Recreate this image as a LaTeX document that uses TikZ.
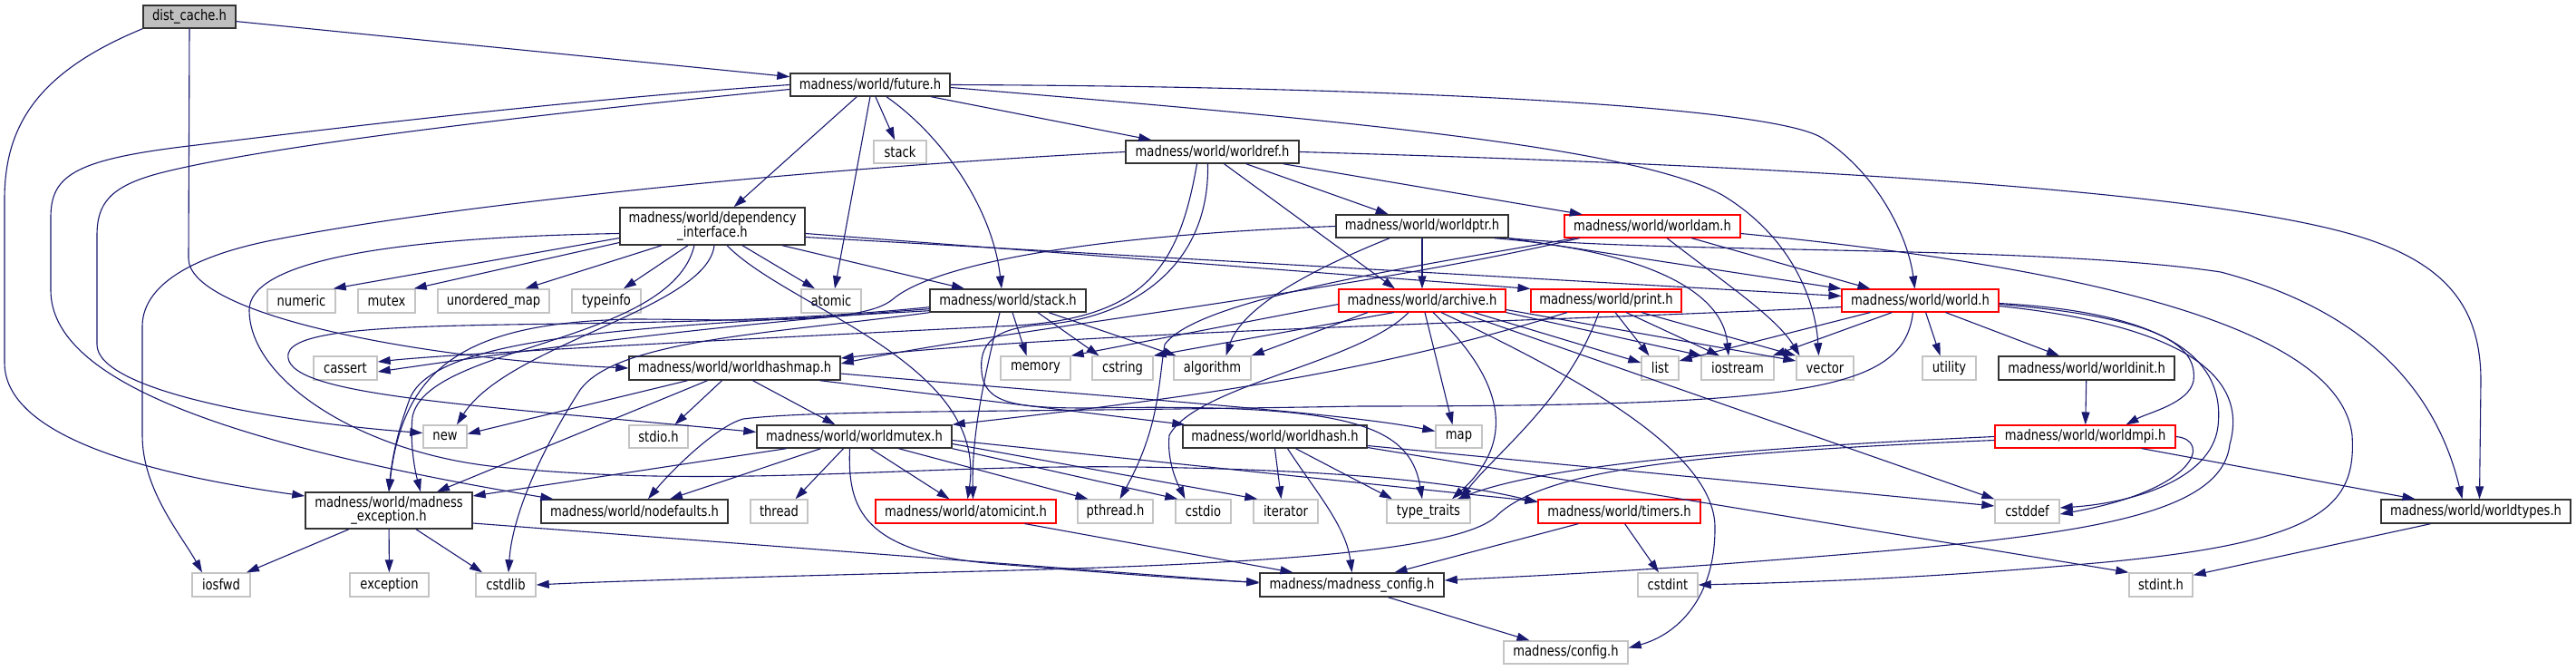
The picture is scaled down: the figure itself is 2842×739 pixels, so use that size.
\documentclass[tikz,border=0pt]{standalone}
\usepackage{fontspec}
\setmainfont{DejaVu Sans}[FakeStretch=0.82]
\usetikzlibrary{arrows.meta}
\definecolor{edgeblue}{HTML}{191970}
\definecolor{grayfill}{HTML}{BFBFBF}
\definecolor{boxgray}{HTML}{C4C4C4}
\definecolor{boxdark}{HTML}{333333}
\newcommand\mknode[7]{\node[#6, minimum width={#4-#2}, minimum height={#5-#3}] (#1) at ({(#2+#4)/2},{(#3+#5)/2}) {#7};}
\begin{document}
\begin{tikzpicture}[x=1pt,y=-1pt,
  font=\fontsize{16}{14.5}\selectfont,
  bx/.style={inner sep=0pt, line width=1.4pt, fill=white, align=center, text=black},
  nb/.style={bx, draw=boxdark},
  nr/.style={bx, draw=red, line width=1.1pt},
  ng/.style={bx, draw=boxgray},
  nd/.style={bx, draw=boxdark, fill=grayfill},
  edg/.style={draw=edgeblue, line width=1.1pt, -{Triangle[length=14pt,width=9pt]}},
]
\fill[white] (0,0) rectangle (2842,739);
\useasboundingbox (0,0) rectangle (2842,739);

% ---------- nodes ----------
\mknode{dist}{158}{6}{260}{31}{nd}{dist\_cache.h}
\mknode{future}{872}{81}{1048}{106}{nb}{madness/world/future.h}
\mknode{stack}{964}{155}{1022}{180}{ng}{stack}
\mknode{worldref}{1242}{155}{1433}{180}{nb}{madness/world/worldref.h}
\mknode{dep}{684}{229}{888}{270}{nb}{madness/world/dependency\\\_interface.h}
\mknode{worldptr}{1474}{237}{1664}{262}{nb}{madness/world/worldptr.h}
\mknode{worldam}{1726}{237}{1920}{262}{nr}{madness/world/worldam.h}
\mknode{numeric}{295}{319}{370}{345}{ng}{numeric}
\mknode{mutex}{395}{319}{458}{345}{ng}{mutex}
\mknode{umap}{483}{319}{606}{345}{ng}{unordered\_map}
\mknode{typeinfo}{631}{319}{707}{345}{ng}{typeinfo}
\mknode{atomic}{884}{319}{950}{345}{ng}{atomic}
\mknode{stackh}{1026}{319}{1198}{344}{nb}{madness/world/stack.h}
\mknode{archive}{1477}{319}{1661}{344}{nr}{madness/world/archive.h}
\mknode{print}{1689}{319}{1855}{344}{nr}{madness/world/print.h}
\mknode{world}{2032}{319}{2205}{344}{nr}{madness/world/world.h}
\mknode{cassert}{346}{393}{416}{419}{ng}{cassert}
\mknode{worldhashmap}{694}{393}{927}{419}{nb}{madness/world/worldhashmap.h}
\mknode{memory}{1104}{393}{1181}{419}{ng}{memory}
\mknode{cstring}{1205}{393}{1272}{419}{ng}{cstring}
\mknode{algorithm}{1295}{393}{1380}{419}{ng}{algorithm}
\mknode{list}{1811}{393}{1852}{419}{ng}{list}
\mknode{iostream}{1877}{393}{1957}{419}{ng}{iostream}
\mknode{vector}{1982}{393}{2045}{419}{ng}{vector}
\mknode{utility}{2121}{393}{2180}{419}{ng}{utility}
\mknode{worldinit}{2205}{393}{2399}{419}{nb}{madness/world/worldinit.h}
\mknode{new}{467}{469}{515}{494}{ng}{new}
\mknode{stdio}{694}{469}{759}{494}{ng}{stdio.h}
\mknode{worldmutex}{835}{469}{1050}{494}{nb}{madness/world/worldmutex.h}
\mknode{worldhash}{1305}{469}{1508}{494}{nb}{madness/world/worldhash.h}
\mknode{map}{1584}{469}{1635}{494}{ng}{map}
\mknode{worldmpi}{2201}{469}{2400}{494}{nr}{madness/world/worldmpi.h}
\mknode{mexc}{337}{543}{521}{583}{nb}{madness/world/madness\\\_exception.h}
\mknode{nodefaults}{597}{551}{803}{577}{nb}{madness/world/nodefaults.h}
\mknode{thread}{828}{551}{891}{577}{ng}{thread}
\mknode{atomicint}{966}{551}{1165}{577}{nr}{madness/world/atomicint.h}
\mknode{pthread}{1189}{551}{1272}{577}{ng}{pthread.h}
\mknode{cstdio}{1297}{551}{1358}{577}{ng}{cstdio}
\mknode{iterator}{1383}{551}{1454}{577}{ng}{iterator}
\mknode{typetraits}{1530}{551}{1622}{577}{ng}{type\_traits}
\mknode{timers}{1697}{551}{1876}{577}{nr}{madness/world/timers.h}
\mknode{cstddef}{2201}{551}{2272}{577}{ng}{cstddef}
\mknode{worldtypes}{2627}{551}{2836}{577}{nb}{madness/world/worldtypes.h}
\mknode{iosfwd}{212}{632}{276}{658}{ng}{iosfwd}
\mknode{exception}{386}{632}{473}{658}{ng}{exception}
\mknode{cstdlib}{525}{632}{591}{658}{ng}{cstdlib}
\mknode{mconfig}{1390}{632}{1593}{658}{nb}{madness/madness\_config.h}
\mknode{cstdint}{1807}{632}{1873}{658}{ng}{cstdint}
\mknode{stdint}{2349}{632}{2419}{658}{ng}{stdint.h}
\mknode{config}{1659}{707}{1796}{732}{ng}{madness/config.h}

% ---------- edges ----------
% dist_cache.h
\draw[edg] (dist) -- (future);
\draw[edg] (dist.south) -- (208,285) .. controls (208,345) and (450,395) .. (worldhashmap.west);
\draw[edg] (dist.south west) .. controls (40,80) and (5,140) .. (5,220) -- (5,400) .. controls (5,490) and (200,528) .. ([yshift=16pt]mexc.west);

% future.h
\draw[edg] (future.west) .. controls (600,112) and (300,150) .. (200,162) .. controls (80,177) and (56,195) .. (56,240) -- (56,320) .. controls (56,420) and (250,490) .. ([xshift=14pt]nodefaults.north west);
\draw[edg] ([yshift=-5pt]future.west) .. controls (600,125) and (300,160) .. (180,190) .. controls (120,205) and (107,225) .. (107,260) -- (107,380) .. controls (107,430) and (300,465) .. ([yshift=4pt]new.west);
\draw[edg] (future) -- (dep);
\draw[edg] (future.south) -- ([xshift=4pt]atomic.north);
\draw[edg] (future) -- (stack);
\draw[edg] ([xshift=18pt]future.south) .. controls (1040,150) and (1095,230) .. ([xshift=-7pt]stackh.north);
\draw[edg] (future) -- (worldref);
\draw[edg] (future.east) .. controls (1500,95) and (1950,115) .. (2010,152) .. controls (2070,190) and (2105,260) .. ([xshift=-6pt]world.north);
\draw[edg] ([yshift=-3pt]future.east) .. controls (1450,130) and (1800,160) .. (1900,215) .. controls (1975,260) and (2003,330) .. ([xshift=-7pt]vector.north);

% worldref.h
\draw[edg] (worldref.west) .. controls (900,185) and (500,225) .. (300,265) .. controls (200,285) and (157,320) .. (157,360) -- (157,480) .. controls (157,540) and (200,590) .. ([xshift=-21pt]iosfwd.north);
\draw[edg] (worldref) -- (worldptr);
\draw[edg] (worldref) -- (worldam);
\draw[edg] ([xshift=13pt]worldref.south) -- ([xshift=-30pt]archive.north);
\draw[edg] (worldref.east) .. controls (1800,178) and (2400,200) .. (2600,260) .. controls (2700,290) and (2737,340) .. (2737,420) -- ([xshift=4pt]worldtypes.north);
\draw[edg] ([xshift=-17pt]worldref.south) .. controls (1300,300) and (1260,355) .. (1100,360) .. controls (800,375) and (500,390) .. ([yshift=7pt]cassert.east);
\draw[edg] ([xshift=-5pt]worldref.south) .. controls (1335,300) and (1240,352) .. (1150,358) .. controls (1095,362) and (1080,380) .. (1083,410) .. controls (1086,445) and (1120,450) .. (1200,450) .. controls (1480,445) and (1555,465) .. ([xshift=-7pt]typetraits.north);

% worldptr.h
\draw[edg] (worldptr) -- (archive);
\draw[edg] (worldptr.south east) -- (world.north west);
\draw[edg] ([xshift=-36pt]worldptr.south) .. controls (1440,300) and (1370,340) .. ([xshift=15pt]algorithm.north);
\draw[edg] ([xshift=80pt]worldptr.south) .. controls (1800,275) and (1900,315) .. ([xshift=-10pt]iostream.north);
\draw[edg] (worldptr.south east) .. controls (1850,280) and (2250,270) .. (2450,300) .. controls (2620,345) and (2690,440) .. ([xshift=-15pt]worldtypes.north);
\draw[edg] (worldptr.west) .. controls (1150,262) and (1020,300) .. (985,330) .. controls (950,360) and (800,352) .. (700,352) .. controls (520,355) and (445,400) .. (mexc.north);

% worldam.h
\draw[edg] ([xshift=43pt]worldam.south) -- ([xshift=-55pt]world.north);
\draw[edg] ([xshift=16pt]worldam.south) .. controls (1900,310) and (1960,350) .. ([xshift=-28pt]vector.north);
\draw[edg] ([yshift=-8pt]worldam.east) .. controls (2250,290) and (2580,350) .. (2595,480) .. controls (2600,560) and (2560,600) .. (2300,622) .. controls (2100,640) and (1950,643) .. (cstdint.east);
\draw[edg] ([xshift=-80pt]worldam.south) .. controls (1500,320) and (1100,365) .. ([yshift=5pt]worldhashmap.east);
\draw[edg] ([xshift=-85pt]worldam.south) .. controls (1560,294) and (1320,330) .. (1285,380) .. controls (1278,420) and (1280,470) .. ([xshift=5pt]pthread.north);

% dependency_interface.h
\draw[edg] ([yshift=-13pt]dep.west) -- ([xshift=-3pt]numeric.north east);
\draw[edg] ([yshift=-18pt]dep.west) -- ([xshift=-2pt]mutex.north east);
\draw[edg] ([xshift=-56pt]dep.south) -- ([xshift=35pt]umap.north);
\draw[edg] ([xshift=-27pt]dep.south) -- ([xshift=19pt]typeinfo.north);
\draw[edg] ([xshift=33pt]dep.south) -- ([xshift=-18pt]atomic.north);
\draw[edg] ([xshift=77pt]dep.south) -- ([xshift=-48pt]stackh.north);
\draw[edg] ([xshift=16pt]dep.south) .. controls (870,340) and (1090,400) .. ([xshift=2pt]atomicint.north);
\draw[edg] ([yshift=-8pt]dep.east) -- (print.north west);
\draw[edg] ([yshift=-12pt]dep.east) -- ([yshift=5pt]world.west);
\draw[edg] ([xshift=-20pt]dep.south) .. controls (740,380) and (470,380) .. (455,460) .. controls (452,490) and (458,520) .. ([xshift=35pt]mexc.north);
\draw[edg] ([xshift=2pt]dep.south) .. controls (780,340) and (560,380) .. ([xshift=13pt]new.north);
\draw[edg] ([yshift=-8pt]dep.west) .. controls (420,262) and (275,290) .. (275,342) .. controls (275,420) and (400,500) .. (550,515) .. controls (800,540) and (1000,512) .. (1250,515) .. controls (1500,518) and (1620,535) .. ([yshift=10pt]timers.west);

% stack.h
\draw[edg] ([xshift=5pt]stackh.south) -- ([xshift=-10pt]memory.north);
\draw[edg] ([xshift=33pt]stackh.south) -- ([xshift=-26pt]cstring.north);
\draw[edg] ([xshift=45pt]stackh.south) -- ([xshift=-40pt]algorithm.north);
\draw[edg] ([xshift=-9pt]stackh.south) .. controls (1085,420) and (1072,480) .. ([xshift=8pt]atomicint.north);
\draw[edg] (stackh.south west) .. controls (850,368) and (680,375) .. (640,430) .. controls (595,500) and (565,570) .. ([xshift=3pt]cstdlib.north);
\draw[edg] ([yshift=2pt]stackh.south west) .. controls (720,360) and (480,368) .. (452,440) .. controls (437,480) and (432,510) .. (mexc.north);
\draw[edg] ([yshift=4pt]stackh.south west) .. controls (760,360) and (520,395) .. ([yshift=-4pt]cassert.east);
\draw[edg] ([yshift=6pt]stackh.south west) .. controls (700,372) and (330,340) .. (318,390) .. controls (310,435) and (500,445) .. ([yshift=5pt]worldmutex.west);

% archive.h
\draw[edg] ([xshift=-60pt]archive.south) -- (algorithm.north east);
\draw[edg] ([xshift=-31pt]archive.south) -- (cstring.north east);
\draw[edg] ([yshift=-4pt]archive.west) -- (memory.north east);
\draw[edg] ([xshift=57pt]archive.south) -- ([yshift=6pt]list.west);
\draw[edg] (archive.south east) -- ([xshift=1pt]iostream.north west);
\draw[edg] ([yshift=-10pt]archive.east) -- ([yshift=8pt]vector.west);
\draw[edg] ([xshift=3pt]archive.south) -- ([xshift=-7pt]map.north);
\draw[edg] ([xshift=12pt]archive.south) .. controls (1650,410) and (1680,480) .. ([xshift=26pt]typetraits.north);
\draw[edg] ([xshift=21pt]archive.south) .. controls (1750,420) and (1890,500) .. (1892,580) .. controls (1893,660) and (1850,700) .. ([yshift=5pt]config.east);
\draw[edg] ([xshift=42pt]archive.south) -- (cstddef.north west);
\draw[edg] ([xshift=-15pt]archive.south) .. controls (1500,400) and (1320,425) .. (1290,480) .. controls (1287,510) and (1300,535) .. ([xshift=-20pt]cstdio.north);

% print.h
\draw[edg] ([xshift=-43pt]print.south) .. controls (1500,415) and (1300,440) .. (worldmutex.north east);
\draw[edg] ([xshift=-8pt]print.south) .. controls (1730,440) and (1650,500) .. ([xshift=35pt]typetraits.north);
\draw[edg] ([xshift=10pt]print.south) -- ([xshift=-12pt]list.north);
\draw[edg] ([xshift=22pt]print.south) -- ([xshift=-20pt]iostream.north);
\draw[edg] ([xshift=39pt]print.south) -- (vector.north west);

% world.h
\draw[edg] ([xshift=-55pt]world.south) -- ([yshift=8pt]list.east);
\draw[edg] ([xshift=-31pt]world.south) -- ([xshift=-2pt]iostream.north east);
\draw[edg] ([xshift=6pt]world.south) -- ([xshift=-10pt]utility.north);
\draw[edg] ([xshift=28pt]world.south) -- ([xshift=-30pt]worldinit.north);
\draw[edg] ([yshift=-7pt]world.west) .. controls (1700,355) and (1200,365) .. ([yshift=11pt]worldhashmap.east);
\draw[edg] ([xshift=-8pt]world.south) .. controls (2100,430) and (2000,448) .. (1500,448) .. controls (1100,455) and (900,452) .. (820,462) .. controls (790,470) and (740,520) .. ([xshift=15pt]nodefaults.north);
\draw[edg] ([yshift=-6pt]world.east) .. controls (2420,360) and (2480,420) .. (2460,490) .. controls (2450,580) and (2250,595) .. (1900,622) .. controls (1750,633) and (1650,637) .. ([yshift=5pt]mconfig.east);
\draw[edg] ([yshift=-3pt]world.east) .. controls (2400,345) and (2455,400) .. (2447,470) .. controls (2440,530) and (2350,555) .. ([yshift=4pt]cstddef.east);
\draw[edg] ([yshift=-4pt]world.east) .. controls (2380,350) and (2425,380) .. (2420,420) .. controls (2415,445) and (2370,455) .. ([xshift=45pt]worldmpi.north);

% worldinit.h / worldmpi.h
\draw[edg] (worldinit) -- (worldmpi);
\draw[edg] ([xshift=62pt]worldmpi.south) -- ([xshift=-67pt]worldtypes.north);
\draw[edg] (worldmpi.west) .. controls (1900,495) and (1700,515) .. ([xshift=32pt]typetraits.north);
\draw[edg] ([yshift=-4pt]worldmpi.west) .. controls (1850,500) and (1700,520) .. (1650,570) .. controls (1600,615) and (1300,625) .. (1000,632) .. controls (800,637) and (650,642) .. (cstdlib.east);
\draw[edg] (worldmpi.east) .. controls (2440,485) and (2425,540) .. ([yshift=-3pt]cstddef.east);

% worldhashmap.h
\draw[edg] ([xshift=-52pt]worldhashmap.south) -- ([yshift=3pt]new.east);
\draw[edg] ([xshift=-30pt]worldhashmap.south) -- ([xshift=53pt]mexc.north);
\draw[edg] ([xshift=-14pt]worldhashmap.south) -- ([xshift=18pt]stdio.north);
\draw[edg] ([xshift=20pt]worldhashmap.south) -- ([xshift=-21pt]worldmutex.north);
\draw[edg] ([xshift=-23pt]worldhashmap.south east) -- ([xshift=3pt]worldhash.north west);
\draw[edg] ([yshift=-6pt]worldhashmap.east) .. controls (1250,440) and (1480,455) .. ([yshift=6pt]map.west);

% worldmutex.h
\draw[edg] ([xshift=-75pt]worldmutex.south) -- ([yshift=16pt]mexc.east);
\draw[edg] ([xshift=-37pt]worldmutex.south) -- ([xshift=39pt]nodefaults.north);
\draw[edg] ([xshift=-12pt]worldmutex.south) -- ([xshift=18pt]thread.north);
\draw[edg] ([xshift=18pt]worldmutex.south) -- ([xshift=-18pt]atomicint.north);
\draw[edg] ([xshift=49pt]worldmutex.south) -- ([xshift=-30pt]pthread.north);
\draw[edg] (worldmutex.south east) -- ([xshift=3pt]cstdio.north west);
\draw[edg] ([yshift=-8pt]worldmutex.east) -- ([xshift=5pt]iterator.north west);
\draw[edg] ([yshift=-4pt]worldmutex.east) -- ([yshift=11pt]timers.west);
\draw[edg] ([xshift=-5pt]worldmutex.south) .. controls (935,560) and (950,610) .. (1100,622) .. controls (1250,634) and (1330,640) .. ([yshift=3pt]mconfig.west);

% worldhash.h
\draw[edg] (worldhash.south) -- ([xshift=-5pt]iterator.north);
\draw[edg] ([xshift=23pt]worldhash.south) -- ([xshift=-40pt]typetraits.north);
\draw[edg] ([xshift=14pt]worldhash.south) .. controls (1450,540) and (1485,580) .. (mconfig.north);
\draw[edg] ([yshift=-10pt]worldhash.east) -- ([yshift=6pt]cstddef.west);
\draw[edg] ([yshift=-12pt]worldhash.east) -- (stdint.north west);

% atomicint.h, timers.h
\draw[edg] ([xshift=65pt]atomicint.south) -- ([xshift=-65pt]mconfig.north);
\draw[edg] ([xshift=-45pt]timers.south) -- ([xshift=47pt]mconfig.north);
\draw[edg] ([xshift=6pt]timers.south) -- ([xshift=-10pt]cstdint.north);

% madness_exception.h
\draw[edg] ([xshift=-44pt]mexc.south) -- ([xshift=28pt]iosfwd.north);
\draw[edg] (mexc) -- (exception);
\draw[edg] ([xshift=30pt]mexc.south) -- ([xshift=-26pt]cstdlib.north);
\draw[edg] ([yshift=-14pt]mexc.east) -- ([yshift=2pt]mconfig.west);

% madness_config.h, worldtypes.h
\draw[edg] ([xshift=40pt]mconfig.south) -- ([xshift=-40pt]config.north);
\draw[edg] ([xshift=-50pt]worldtypes.south) -- ([yshift=-3pt]stdint.north east);
\end{tikzpicture}
\end{document}
